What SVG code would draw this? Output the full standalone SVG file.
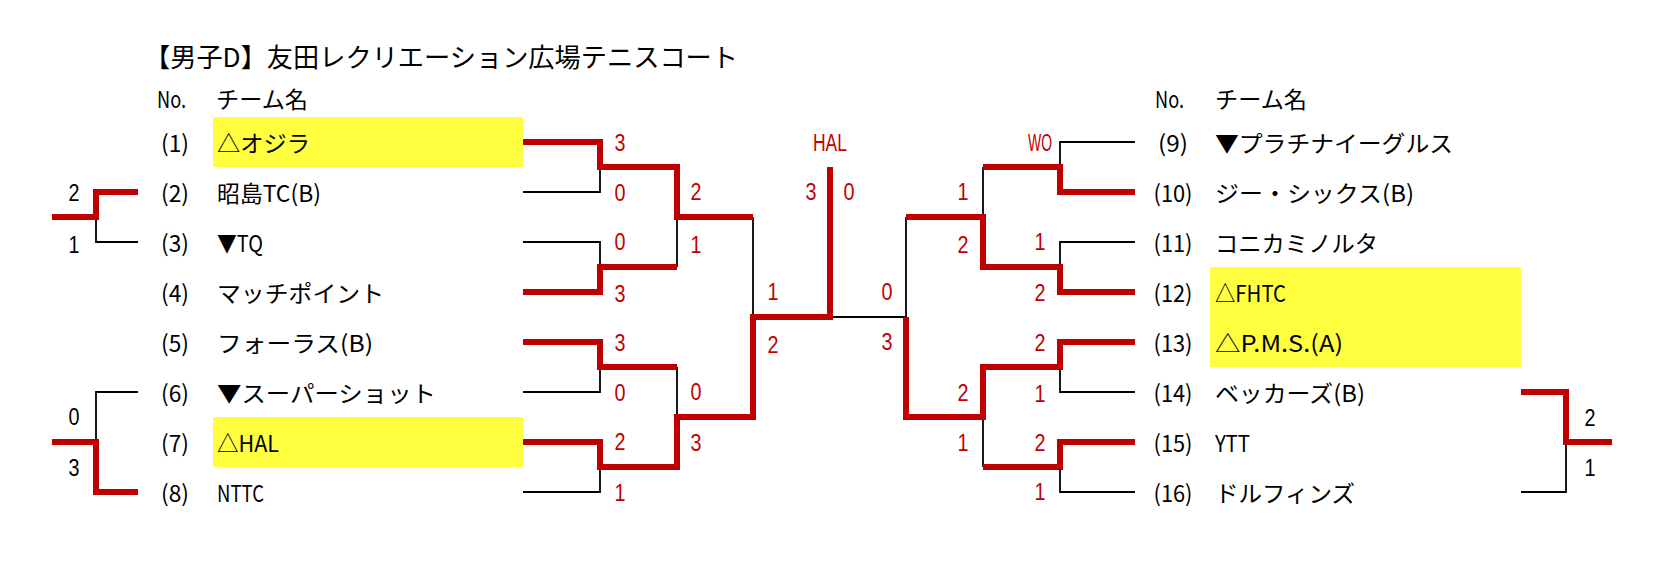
<svg xmlns="http://www.w3.org/2000/svg" width="1669" height="570" viewBox="0 0 1669 570">
<style>
.r{fill:none;stroke:#C00000;stroke-width:6;stroke-linejoin:miter;stroke-linecap:butt}
.k{fill:none;stroke:#000;stroke-width:1.8}
.hl{fill:#FFFF40}
.t{font-family:"Noto Sans CJK JP",sans-serif;font-size:23px;fill:#000;dominant-baseline:central}
.n{text-anchor:middle}
.s{font-family:"Liberation Sans","Noto Sans CJK JP",sans-serif;font-size:23px;fill:#C00000;text-anchor:middle;dominant-baseline:central}
.b{fill:#000}
</style>
<rect width="1669" height="570" fill="#fff"/>
<g id="title"><text class="t" x="144" y="55" style="font-size:26px" textLength="594" lengthAdjust="spacingAndGlyphs">【男子D】友田レクリエーション広場テニスコート</text></g>
<g id="header-left"><text class="t" x="157" y="98" textLength="29" lengthAdjust="spacingAndGlyphs">No.</text><text class="t" x="216" y="98" textLength="92" lengthAdjust="spacingAndGlyphs">チーム名</text></g>
<g id="header-right"><text class="t" x="1155" y="98" textLength="29" lengthAdjust="spacingAndGlyphs">No.</text><text class="t" x="1215" y="98" textLength="92" lengthAdjust="spacingAndGlyphs">チーム名</text></g>
<g id="highlights">
<rect class="hl" x="213" y="117" width="310" height="50"/>
<rect class="hl" x="213" y="417" width="310" height="50"/>
<rect class="hl" x="1210" y="267" width="311" height="100"/>
</g>
<g id="connectors">
<path class="k" d="M523,192H600V167M523,242H600V267M677,217V267M523,392H600V367M523,492H600V467M677,367V417M753,217V317M830,317H906M138,242H96V217M138,392H96V442M1135,142H1060V167M983,167V217M1135,242H1060V267M906,217V317M1135,392H1060V367M983,417V467M1135,492H1060V467M1521,492H1566V442"/>
<path class="r" d="M523,142H600V167H677V217H753"/>
<path class="r" d="M523,292H600V267H677"/>
<path class="r" d="M523,342H600V367H677"/>
<path class="r" d="M523,442H600V467H677V417H753V317H830V167"/>
<path class="r" d="M138,192H96V217H52"/>
<path class="r" d="M138,492H96V442H52"/>
<path class="r" d="M1135,192H1060V167H983"/>
<path class="r" d="M1135,292H1060V267H983V217H906"/>
<path class="r" d="M1135,342H1060V367H983V417H906V317"/>
<path class="r" d="M1135,442H1060V467H983"/>
<path class="r" d="M1521,392H1566V442H1612"/>
</g>
<g id="team-1"><text class="t n" x="175" y="142" textLength="28" lengthAdjust="spacingAndGlyphs">(1)</text><text class="t" x="217" y="142" textLength="93" lengthAdjust="spacingAndGlyphs">△オジラ</text></g>
<g id="team-2"><text class="t n" x="175" y="192" textLength="28" lengthAdjust="spacingAndGlyphs">(2)</text><text class="t" x="217" y="192" textLength="104" lengthAdjust="spacingAndGlyphs">昭島TC(B)</text></g>
<g id="team-3"><text class="t n" x="175" y="242" textLength="28" lengthAdjust="spacingAndGlyphs">(3)</text><text class="t" x="217" y="242" textLength="46" lengthAdjust="spacingAndGlyphs">▼TQ</text></g>
<g id="team-4"><text class="t n" x="175" y="292" textLength="28" lengthAdjust="spacingAndGlyphs">(4)</text><text class="t" x="217" y="292" textLength="167" lengthAdjust="spacingAndGlyphs">マッチポイント</text></g>
<g id="team-5"><text class="t n" x="175" y="342" textLength="28" lengthAdjust="spacingAndGlyphs">(5)</text><text class="t" x="217" y="342" textLength="156" lengthAdjust="spacingAndGlyphs">フォーラス(B)</text></g>
<g id="team-6"><text class="t n" x="175" y="392" textLength="28" lengthAdjust="spacingAndGlyphs">(6)</text><text class="t" x="217" y="392" textLength="219" lengthAdjust="spacingAndGlyphs">▼スーパーショット</text></g>
<g id="team-7"><text class="t n" x="175" y="442" textLength="28" lengthAdjust="spacingAndGlyphs">(7)</text><text class="t" x="217" y="442" textLength="62" lengthAdjust="spacingAndGlyphs">△HAL</text></g>
<g id="team-8"><text class="t n" x="175" y="492" textLength="28" lengthAdjust="spacingAndGlyphs">(8)</text><text class="t" x="217" y="492" textLength="47" lengthAdjust="spacingAndGlyphs">NTTC</text></g>
<g id="team-9"><text class="t n" x="1173" y="142" textLength="30" lengthAdjust="spacingAndGlyphs">(9)</text><text class="t" x="1215" y="142" textLength="238" lengthAdjust="spacingAndGlyphs">▼プラチナイーグルス</text></g>
<g id="team-10"><text class="t n" x="1173" y="192" textLength="39" lengthAdjust="spacingAndGlyphs">(10)</text><text class="t" x="1215" y="192" textLength="199" lengthAdjust="spacingAndGlyphs">ジー・シックス(B)</text></g>
<g id="team-11"><text class="t n" x="1173" y="242" textLength="39" lengthAdjust="spacingAndGlyphs">(11)</text><text class="t" x="1215" y="242" textLength="163" lengthAdjust="spacingAndGlyphs">コニカミノルタ</text></g>
<g id="team-12"><text class="t n" x="1173" y="292" textLength="39" lengthAdjust="spacingAndGlyphs">(12)</text><text class="t" x="1215" y="292" textLength="71" lengthAdjust="spacingAndGlyphs">△FHTC</text></g>
<g id="team-13"><text class="t n" x="1173" y="342" textLength="39" lengthAdjust="spacingAndGlyphs">(13)</text><text class="t" x="1215" y="342" textLength="128" lengthAdjust="spacingAndGlyphs">△P.M.S.(A)</text></g>
<g id="team-14"><text class="t n" x="1173" y="392" textLength="39" lengthAdjust="spacingAndGlyphs">(14)</text><text class="t" x="1215" y="392" textLength="150" lengthAdjust="spacingAndGlyphs">ベッカーズ(B)</text></g>
<g id="team-15"><text class="t n" x="1173" y="442" textLength="39" lengthAdjust="spacingAndGlyphs">(15)</text><text class="t" x="1215" y="442" textLength="35" lengthAdjust="spacingAndGlyphs">YTT</text></g>
<g id="team-16"><text class="t n" x="1173" y="492" textLength="39" lengthAdjust="spacingAndGlyphs">(16)</text><text class="t" x="1215" y="492" textLength="140" lengthAdjust="spacingAndGlyphs">ドルフィンズ</text></g>
<g id="scores-left">
<text class="s" x="620" y="143" textLength="11" lengthAdjust="spacingAndGlyphs">3</text>
<text class="s" x="620" y="193" textLength="11" lengthAdjust="spacingAndGlyphs">0</text>
<text class="s" x="620" y="242" textLength="11" lengthAdjust="spacingAndGlyphs">0</text>
<text class="s" x="620" y="294" textLength="11" lengthAdjust="spacingAndGlyphs">3</text>
<text class="s" x="620" y="343" textLength="11" lengthAdjust="spacingAndGlyphs">3</text>
<text class="s" x="620" y="393" textLength="11" lengthAdjust="spacingAndGlyphs">0</text>
<text class="s" x="620" y="442" textLength="11" lengthAdjust="spacingAndGlyphs">2</text>
<text class="s" x="620" y="493" textLength="11" lengthAdjust="spacingAndGlyphs">1</text>
<text class="s" x="696" y="192" textLength="11" lengthAdjust="spacingAndGlyphs">2</text>
<text class="s" x="696" y="245" textLength="11" lengthAdjust="spacingAndGlyphs">1</text>
<text class="s" x="696" y="392" textLength="11" lengthAdjust="spacingAndGlyphs">0</text>
<text class="s" x="696" y="443" textLength="11" lengthAdjust="spacingAndGlyphs">3</text>
<text class="s" x="773" y="292" textLength="11" lengthAdjust="spacingAndGlyphs">1</text>
<text class="s" x="773" y="345" textLength="11" lengthAdjust="spacingAndGlyphs">2</text>
</g>
<g id="final">
<text class="s" x="830" y="143" textLength="34" lengthAdjust="spacingAndGlyphs">HAL</text>
<text class="s" x="811" y="192" textLength="11" lengthAdjust="spacingAndGlyphs">3</text>
<text class="s" x="849" y="192" textLength="11" lengthAdjust="spacingAndGlyphs">0</text>
</g>
<g id="scores-right">
<text class="s" x="887" y="292" textLength="11" lengthAdjust="spacingAndGlyphs">0</text>
<text class="s" x="887" y="342" textLength="11" lengthAdjust="spacingAndGlyphs">3</text>
<text class="s" x="963" y="192" textLength="11" lengthAdjust="spacingAndGlyphs">1</text>
<text class="s" x="963" y="245" textLength="11" lengthAdjust="spacingAndGlyphs">2</text>
<text class="s" x="963" y="393" textLength="11" lengthAdjust="spacingAndGlyphs">2</text>
<text class="s" x="963" y="443" textLength="11" lengthAdjust="spacingAndGlyphs">1</text>
<text class="s" x="1040" y="143" textLength="24" lengthAdjust="spacingAndGlyphs">WO</text>
<text class="s" x="1040" y="242" textLength="11" lengthAdjust="spacingAndGlyphs">1</text>
<text class="s" x="1040" y="293" textLength="11" lengthAdjust="spacingAndGlyphs">2</text>
<text class="s" x="1040" y="343" textLength="11" lengthAdjust="spacingAndGlyphs">2</text>
<text class="s" x="1040" y="394" textLength="11" lengthAdjust="spacingAndGlyphs">1</text>
<text class="s" x="1040" y="443" textLength="11" lengthAdjust="spacingAndGlyphs">2</text>
<text class="s" x="1040" y="492" textLength="11" lengthAdjust="spacingAndGlyphs">1</text>
</g>
<g id="side-left">
<text class="s b" x="74" y="193" textLength="11" lengthAdjust="spacingAndGlyphs">2</text>
<text class="s b" x="74" y="245" textLength="11" lengthAdjust="spacingAndGlyphs">1</text>
<text class="s b" x="74" y="417" textLength="11" lengthAdjust="spacingAndGlyphs">0</text>
<text class="s b" x="74" y="468" textLength="11" lengthAdjust="spacingAndGlyphs">3</text>
</g>
<g id="side-right">
<text class="s b" x="1590" y="418" textLength="11" lengthAdjust="spacingAndGlyphs">2</text>
<text class="s b" x="1590" y="468" textLength="11" lengthAdjust="spacingAndGlyphs">1</text>
</g>
</svg>
